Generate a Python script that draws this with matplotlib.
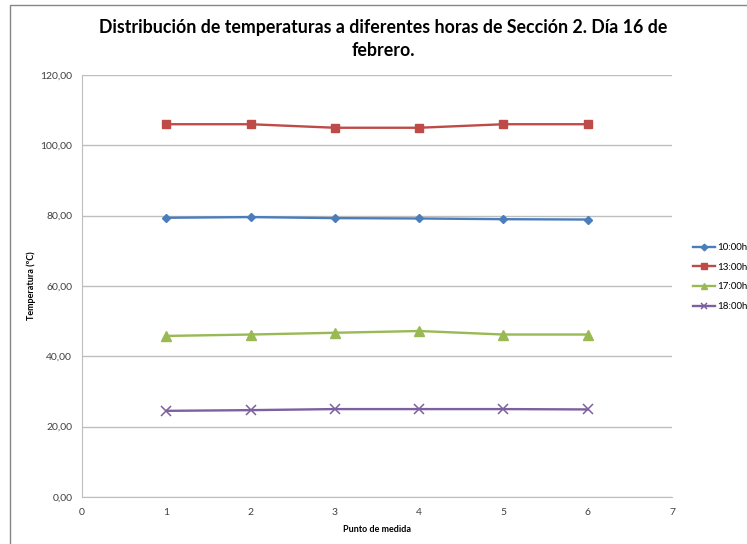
import matplotlib
matplotlib.use("Agg")
from matplotlib import pyplot as plt
from matplotlib.patches import Rectangle

# measurements per point
puntos = [1, 2, 3, 4, 5, 6]
t_1000 = [79.4, 79.6, 79.3, 79.2, 79.0, 78.9]
t_1300 = [106.0, 106.0, 105.0, 105.0, 106.0, 106.0]
t_1700 = [45.8, 46.2, 46.7, 47.2, 46.2, 46.2]
t_1800 = [24.5, 24.7, 25.0, 25.0, 25.0, 24.9]
series_names = ['10:00h', '13:00h', '17:00h', '18:00h']
y_ticks = [0, 20, 40, 60, 80, 100, 120]
x_ticks = [0, 1, 2, 3, 4, 5, 6, 7]

plt.rcParams['font.family'] = ['Lato', 'DejaVu Sans']

fig = plt.figure(figsize=(7.47, 5.44), dpi=100)
fig.patches.append(Rectangle((10 / 747, -0.1), 1.0, 1.1 - 5 / 544, transform=fig.transFigure,
                             fill=False, edgecolor='#868686', linewidth=1.0))

ax = fig.add_axes([82 / 747, 1 - 497 / 544, 590 / 747, 422 / 544])

styles = [
    dict(color='#4A7EBB', marker='D', markersize=4.5),
    dict(color='#BE4B48', marker='s', markersize=6),
    dict(color='#98B954', marker='^', markersize=6.5),
    dict(color='#7D60A0', marker='x', markersize=6.5, markeredgewidth=1.1),
]
for vals, name, st in zip([t_1000, t_1300, t_1700, t_1800], series_names, styles):
    ax.plot(puntos, vals, linewidth=1.7, label=name, **st)

ax.set_xlim(0, 7)
ax.set_ylim(0, 120)
ax.set_xticks(x_ticks)
ax.set_yticks(y_ticks)
ax.set_yticklabels([f'{v},00' for v in y_ticks])
ax.tick_params(axis='both', length=0, labelsize=7.5, labelcolor='#404040')
ax.tick_params(axis='y', pad=7)
ax.tick_params(axis='x', pad=8)
ax.grid(axis='y', color='#BEBEBE', linewidth=1)
ax.set_axisbelow(True)
for side in ['top', 'right']:
    ax.spines[side].set_visible(False)
for side in ['left', 'bottom']:
    ax.spines[side].set_color('#BEBEBE')

ax.set_xlabel('Punto de medida', fontsize=6.5, fontweight='bold', labelpad=6)
ax.set_ylabel('Temperatura (ºC)', fontsize=6.5, fontweight='bold', labelpad=3)

fig.text(383 / 747, 1 - 39 / 544, 'Distribución de temperaturas a diferentes horas de Sección 2. Día 16 de\nfebrero.',
         ha='center', va='center', fontsize=12.8, fontweight='bold', linespacing=1.4)

ax.legend(loc='center left', bbox_to_anchor=(688 / 747, 1 - 277 / 544), bbox_transform=fig.transFigure,
          frameon=False, fontsize=7, handlelength=2.3, labelspacing=1.1, handletextpad=0.2,
          borderpad=0, markerscale=0.75)

fig.savefig('out.png', dpi=100)
